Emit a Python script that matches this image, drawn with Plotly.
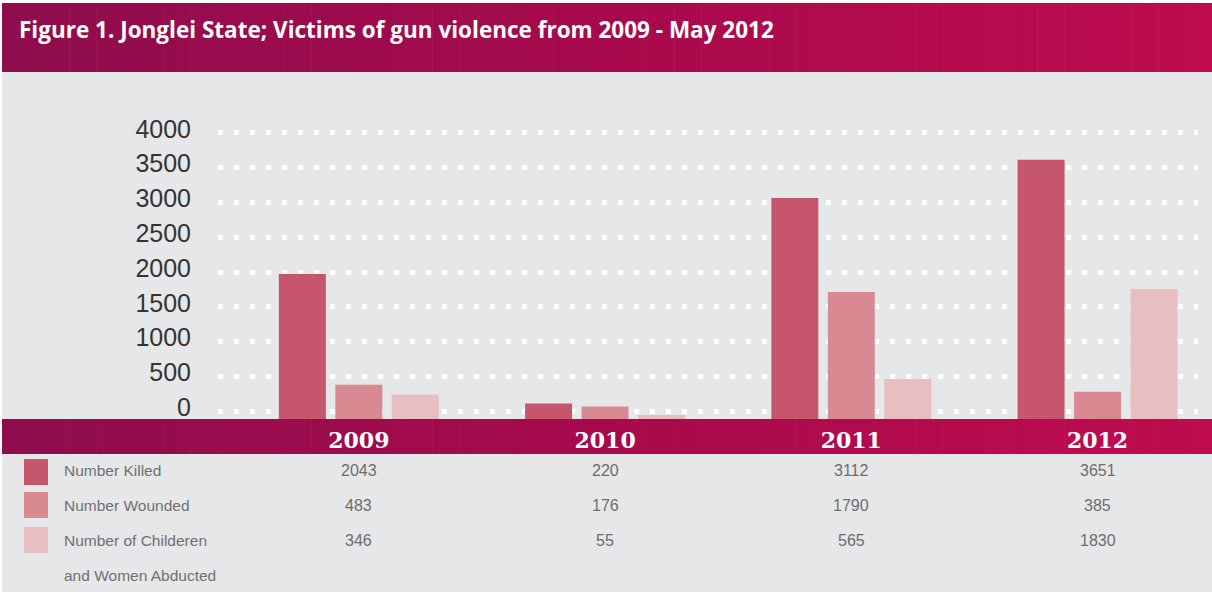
import plotly.graph_objects as go

# ---- data ----
years = ["2009", "2010", "2011", "2012"]
killed = [2043, 220, 3112, 3651]
wounded = [483, 176, 1790, 385]
abducted = [346, 55, 565, 1830]
series_values = [killed, wounded, abducted]
series_colors = ["#C5566B", "#D98991", "#E8BEC0"]
legend_lines = ["Number Killed", "Number Wounded", "Number of Childeren", "and Women Abducted"]
grid_ticks = [0, 500, 1000, 1500, 2000, 2500, 3000, 3500, 4000]
title_text = "Figure 1. Jonglei State; Victims of gun violence from 2009 - May 2012"

W, H = 1212, 592


def fx(px):
    return min(1.0, max(0.0, px / W))


def fy(py):
    return min(1.0, max(0.0, 1 - py / H))


fig = go.Figure()
for vals, col in zip(series_values, series_colors):
    fig.add_trace(go.Bar(x=years, y=vals, marker=dict(color=col, line=dict(width=0)),
                         yaxis="y", hoverinfo="skip", showlegend=False))
# anchor trace for the labelled grid axis
fig.add_trace(go.Scatter(x=years, y=killed, yaxis="y2", mode="markers",
                         marker=dict(opacity=0, size=1), hoverinfo="skip", showlegend=False))

shapes = []
# grey background
shapes.append(dict(type="rect", xref="paper", yref="paper", x0=fx(2), x1=1, y0=0, y1=fy(72),
                   fillcolor="#E6E7E9", line=dict(width=0), layer="below"))


def lerp_col(t):
    stops = [(0.0, (143, 13, 77)), (0.5, (167, 10, 76)), (1.0, (190, 12, 78))]
    for (t0, c0), (t1, c1) in zip(stops[:-1], stops[1:]):
        if t <= t1:
            u = (t - t0) / (t1 - t0)
            return "rgb(%d,%d,%d)" % tuple(round(a + (b - a) * u) for a, b in zip(c0, c1))
    return "rgb(%d,%d,%d)" % stops[-1][1]


N = 90
for band in [(3, 72), (419, 454)]:
    for i in range(N):
        x0 = 2 + (W - 2) * i / N
        x1 = 2 + (W - 2) * (i + 1) / N + 0.6
        shapes.append(dict(type="rect", xref="paper", yref="paper", x0=fx(x0), x1=fx(x1),
                           y0=fy(band[1]), y1=fy(band[0]), fillcolor=lerp_col(i / (N - 1)),
                           line=dict(width=0), layer="below"))

# legend squares
sq_rows = [(459, 485), (492, 518), (527, 553)]
for (t, b), col in zip(sq_rows, series_colors):
    shapes.append(dict(type="rect", xref="paper", yref="paper", x0=fx(24), x1=fx(48),
                       y0=fy(b), y1=fy(t), fillcolor=col, line=dict(width=0), layer="below"))

annotations = []
annotations.append(dict(text="<b>" + title_text + "</b>", x=fx(17), y=fy(30), xref="paper", yref="paper",
                        xanchor="left", yanchor="middle", showarrow=False,
                        font=dict(family="Open Sans, Liberation Sans, Arial", size=22.5, color="white")))
row_y = [470, 505, 540, 575]
for line, yy in zip(legend_lines, row_y):
    annotations.append(dict(text=line, x=fx(62), y=fy(yy), xref="paper", yref="paper",
                            xanchor="left", yanchor="middle", showarrow=False,
                            font=dict(family="Liberation Sans, Arial", size=15.5, color="#707070")))
for vals, yy in zip(series_values, row_y):
    for i, v in enumerate(vals):
        annotations.append(dict(text=str(v), x=i, y=fy(yy), xref="x", yref="paper",
                                xanchor="center", yanchor="middle", showarrow=False,
                                font=dict(family="Liberation Sans, Arial", size=16, color="#6D6D6D")))

fig.update_layout(
    template="none",
    width=W, height=H,
    margin=dict(l=0, r=0, t=0, b=0, pad=0, autoexpand=False),
    paper_bgcolor="white",
    plot_bgcolor="rgba(0,0,0,0)",
    barmode="group",
    bargap=0.312,
    bargroupgap=0.168,
    hovermode=False,
    showlegend=False,
    xaxis=dict(type="category", domain=[fx(218), fx(1198)], range=[-0.572, 3.408],
               showgrid=False, zeroline=False, showline=False, ticks="", automargin=False,
               tickfont=dict(family="DejaVu Serif", size=22, color="white", weight="bold"),
               ticklabelstandoff=6, fixedrange=True),
    yaxis=dict(domain=[fy(419), fy(125)], range=[0, 4140], visible=False, automargin=False,
               fixedrange=True),
    yaxis2=dict(overlaying="y", side="left", range=[-115, 4115], tickvals=grid_ticks,
                showgrid=True, gridcolor="white", gridwidth=5, griddash="5px,11px",
                zeroline=False, showline=False, ticks="", automargin=False,
                tickfont=dict(family="Liberation Sans, Arial", size=25, color="#333333"),
                ticklabelstandoff=26, ticklabelshift=-4, fixedrange=True),
    shapes=shapes,
    annotations=annotations,
)

# pin the figure to the page origin so it fills the window exactly
pin = ("document.body.style.margin='0';"
       "var gd=document.getElementById('{plot_id}');"
       "gd.style.position='fixed';gd.style.left='0px';gd.style.top='0px';")
fig.write_html("out.html", post_script=pin, config={"displayModeBar": False})
